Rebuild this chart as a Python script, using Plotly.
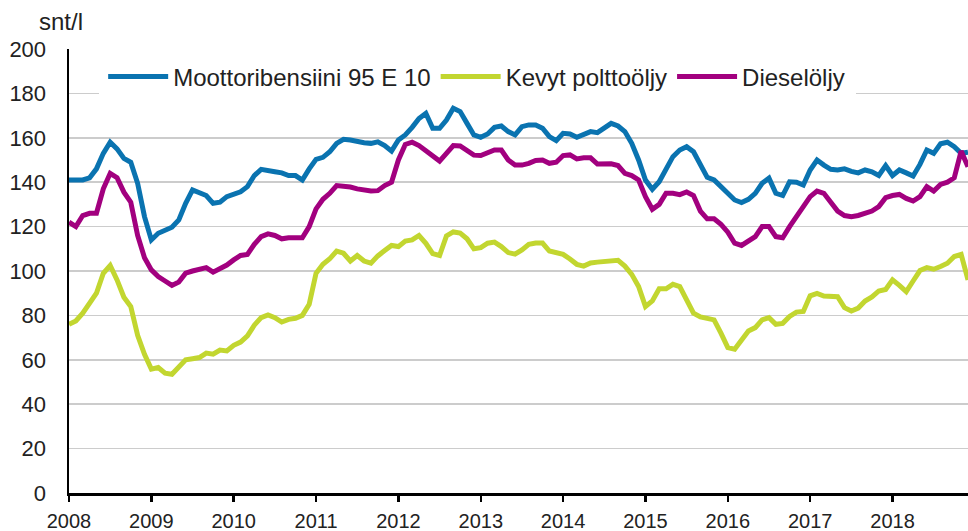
import plotly.graph_objects as go
import pandas as pd

months = pd.date_range("2008-01-01", "2018-12-01", freq="MS")
year_ticks = list(range(2008, 2019))

bensiini = [141, 141, 141, 142, 146, 153, 158, 155, 150.7, 149, 139.5, 124.5,
            114, 117, 118.5, 119.7, 123, 130.5, 136.5, 135, 134, 130.5, 131, 133.5,
            134.7, 135.7, 138, 143, 145.8, 145, 144.7, 144.2, 143, 143, 141, 146,
            150.3, 151.2, 153.7, 157.5, 159.3, 159, 158.2, 157.8, 157.5, 158.2, 156.5, 154,
            159, 161.3, 164.7, 168.7, 171, 164.3, 164.3, 168, 173.3, 171.8, 166.5, 161.3,
            160.2, 161.7, 164.7, 165.3, 162.8, 161.3, 165, 165.8, 165.8, 164.3, 160.5, 158.7,
            162, 161.7, 160.2, 161.3, 162.8, 162.3, 164.3, 166.5, 165.3, 162.8, 157.5, 150,
            141, 136.8, 140.2, 146, 151.5, 154.5, 156, 153.7, 147.7, 142.2, 141, 138,
            135.7, 132, 130.8, 132.3, 135, 139.5, 141.8, 135, 134, 140.2, 140, 138.7,
            145.5, 150, 147.7, 145.8, 145.5, 146, 144.9, 144.2, 145.5, 144.7, 143, 147.5,
            143, 145.5, 144.2, 142.8, 148, 154.5, 153, 157.3, 158, 156, 153, 153.5]

kevyt = [76, 77.5, 81, 85.5, 90, 99, 102.5, 96, 88.2, 84, 71, 62.5,
         55.8, 56.5, 54, 53.5, 56.5, 60, 60.5, 61, 63, 62.5, 64.4, 64,
         66.5, 68, 70.8, 75.6, 79, 80.2, 79, 77, 78.2, 78.7, 80, 85,
         99, 103, 105.5, 109, 108, 104.5, 107, 104.5, 103.5, 106.8, 109.2, 111.5,
         111, 113.5, 114, 116, 112.5, 107.8, 107, 115.8, 117.6, 117.1, 114.5, 110,
         110.5, 112.5, 113, 111, 108.3, 107.6, 109.5, 112, 112.6, 112.6, 109, 108,
         107.5, 105.4, 103, 102.2, 103.6, 104, 104.2, 104.4, 104.8, 102.2, 98.5, 93,
         84, 86.5, 92, 92, 94, 93, 87.5, 81, 79.3, 78.4, 78, 72,
         65.5, 64.8, 68.5, 73, 74.5, 78, 79, 76, 76.4, 79.5, 81.5, 81.8,
         88.8, 89.9, 88.7, 88.6, 88.4, 83.5, 82, 83.3, 86.5, 88.3, 91, 91.7,
         96, 93.5, 90.7, 95.5, 100.2, 101.5, 100.8, 102, 103.5, 106.5, 107.5, 96]

diesel = [122, 120, 125, 126, 126, 137, 144, 142, 135.5, 131, 116, 106,
          100.5, 97.5, 95.5, 93.5, 95, 99, 100, 100.5, 101.5, 99.5, 101, 102.7,
          105, 107, 107.5, 112, 115.5, 116.7, 116, 114.5, 115, 115, 115, 120,
          128, 132.3, 135, 138.5, 138.2, 137.8, 137, 136.4, 136, 136.2, 138.5, 140,
          150, 157, 158, 156.5, 154, 151.3, 149.5, 153, 156.5, 156.3, 154.5, 152.2,
          152, 153.3, 154.5, 154.5, 150, 147.7, 147.7, 148.5, 149.8, 150, 148.5, 149,
          152, 152.3, 150.5, 151, 151, 148.2, 148, 148.3, 147.5, 144, 143, 141,
          133.5, 127.8, 130, 135, 135, 134.4, 135.6, 134, 127, 123.5, 123.5, 121,
          117.5, 112.5, 111.5, 113.2, 115.5, 120, 120, 115.5, 115, 120, 125, 129,
          133.5, 136, 135, 131, 127, 125, 124.5, 125, 126, 127, 129, 133,
          134, 134.5, 132.7, 131.5, 133.5, 138, 136, 139, 140, 142, 154, 147]

x = [m.year + (m.month - 1) / 12 for m in months]

FONT = "Liberation Sans, Arial, sans-serif"
TXT = "#222222"

fig = go.Figure()
fig.add_trace(go.Scatter(x=x, y=bensiini, mode="lines", name="Moottoribensiini 95 E 10",
                         line=dict(color="#0a73b0", width=5)))
fig.add_trace(go.Scatter(x=x, y=kevyt, mode="lines", name="Kevyt polttoöljy",
                         line=dict(color="#c2d630", width=5)))
fig.add_trace(go.Scatter(x=x, y=diesel, mode="lines", name="Dieselöljy",
                         line=dict(color="#a2007f", width=5)))

fig.update_layout(
    width=968, height=531,
    margin=dict(l=69, r=0, t=49, b=38),
    paper_bgcolor="white", plot_bgcolor="white",
    font=dict(family=FONT, size=20, color=TXT),
    showlegend=True,
    legend=dict(orientation="h", x=0.038, y=0.937, xanchor="left", yanchor="middle",
                bgcolor="rgba(0,0,0,0)", font=dict(size=24, family=FONT, color=TXT),
                itemwidth=60, tracegroupgap=0),
    xaxis=dict(range=[2008, x[-1]], tickvals=year_ticks,
               ticktext=[str(y) for y in year_ticks],
               showgrid=False, zeroline=False, automargin=False,
               showline=True, linecolor="black", linewidth=2.5,
               ticks="outside", ticklen=6, tickwidth=2.5, tickcolor="black",
               ticklabelstandoff=2,
               tickfont=dict(size=20, family=FONT, color=TXT)),
    yaxis=dict(range=[0, 200], tick0=0, dtick=20, automargin=False,
               showgrid=True, gridcolor="#cccccc", gridwidth=1.5,
               zeroline=False, showline=True, linecolor="black", linewidth=2.5,
               ticks="", ticklabelstandoff=16,
               tickfont=dict(size=22, family=FONT, color=TXT)),
    shapes=[dict(type="rect", xref="paper", yref="paper",
                 x0=(99 - 69) / 899, x1=(856 - 69) / 899,
                 y0=(493 - 101) / 444, y1=(493 - 44) / 444,
                 fillcolor="white", line=dict(width=0), layer="above")],
    annotations=[dict(text="snt/l", xref="paper", yref="paper",
                      x=-0.009, y=1.061, xanchor="center", yanchor="middle",
                      showarrow=False, font=dict(size=24, family=FONT, color=TXT))],
)

fig.write_html("out.html",
               config={"displayModeBar": False, "staticPlot": True},
               post_script="document.body.style.margin='0';"
                           "document.body.style.overflow='hidden';")
